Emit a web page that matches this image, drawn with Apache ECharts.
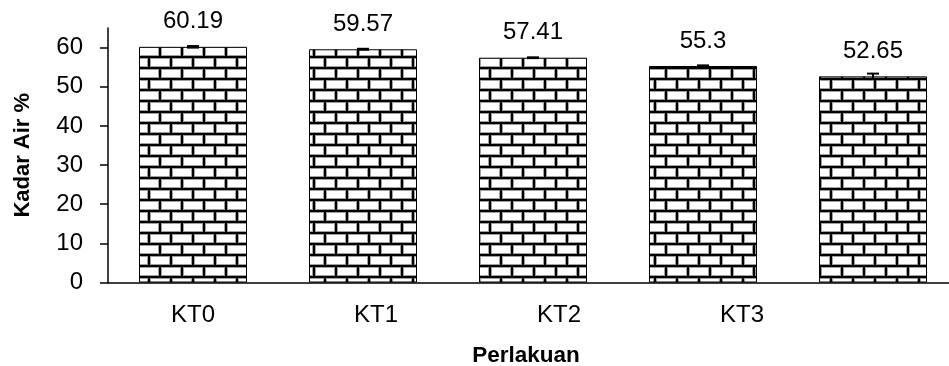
<!DOCTYPE html>
<html>
<head>
<meta charset="utf-8">
<script src="https://cdn.jsdelivr.net/npm/echarts@6/dist/echarts.min.js"></script>
<style>html,body{margin:0;padding:0;background:#fff}#c{width:949px;height:366px}</style>
</head>
<body>
<div id="c"></div>
<script>
var categories = ['KT0', 'KT1', 'KT2', 'KT3', 'KT4'];
var tickLabels = ['KT0', 'KT1', 'KT2', 'KT3'];
var values = [60.19, 59.57, 57.41, 55.3, 52.65];
var errors = [0.2, 0.12, 0.1, 0.15, 0.7];
var yTicks = [0, 10, 20, 30, 40, 50, 60];

var FONT = "'Liberation Sans', Arial, sans-serif";

function brick() {
  var c = document.createElement('canvas');
  c.width = 22; c.height = 22;
  var g = c.getContext('2d');
  g.fillStyle = '#fff';
  g.fillRect(0, 0, 22, 22);
  function lines(col, w) {
    g.strokeStyle = col; g.lineWidth = w;
    g.beginPath();
    g.moveTo(0, 2); g.lineTo(22, 2);
    g.moveTo(0, 13); g.lineTo(22, 13);
    g.moveTo(6, 2); g.lineTo(6, 13);
    g.moveTo(17, 13); g.lineTo(17, 22);
    g.moveTo(17, 0); g.lineTo(17, 2);
    g.stroke();
  }
  lines('#a0a0a0', 4);
  lines('#000', 2);
  return c;
}

var chart = echarts.init(document.getElementById('c'), null, {renderer: 'canvas'});
var errData = values.map(function (v, i) { return [i, v - errors[i], v + errors[i]]; });

chart.setOption({
  animation: false,
  backgroundColor: '#fff',
  grid: [
    {left: 108, top: 28, width: 850, bottom: 83.5, containLabel: false, outerBoundsMode: 'none'},
    {left: 101.5, top: 28, width: 732, bottom: 83.5, containLabel: false, outerBoundsMode: 'none'}
  ],
  xAxis: [
    {
      type: 'category', gridIndex: 0, data: categories,
      axisLine: {lineStyle: {color: '#000', width: 1.5}},
      axisTick: {show: false},
      axisLabel: {show: false},
      name: 'Perlakuan', nameLocation: 'middle', nameGap: 62,
      nameTextStyle: {fontFamily: FONT, fontSize: 22.5, fontWeight: 'bold', color: '#000', padding: [0, 0, 0, -14]}
    },
    {
      type: 'category', gridIndex: 1, data: tickLabels,
      axisLine: {show: false}, axisTick: {show: false},
      axisLabel: {fontFamily: FONT, fontSize: 24, color: '#000', margin: 21}
    }
  ],
  yAxis: [
    {
      type: 'value', gridIndex: 0, min: 0, max: 65, interval: 10,
      axisLine: {show: true, lineStyle: {color: '#000', width: 1.5}},
      axisTick: {show: true, length: 8, lineStyle: {color: '#000', width: 1.5}, customValues: yTicks},
      axisLabel: {fontFamily: FONT, fontSize: 24, color: '#000', margin: 25, customValues: yTicks},
      splitLine: {show: false},
      name: 'Kadar Air %', nameLocation: 'middle', nameGap: 74,
      nameTextStyle: {fontFamily: FONT, fontSize: 22, fontWeight: 'bold', color: '#000'}
    },
    {type: 'value', gridIndex: 1, show: false, min: 0, max: 65}
  ],
  series: [
    {
      type: 'bar', xAxisIndex: 0, yAxisIndex: 0, data: values, barWidth: 108,
      itemStyle: {color: {image: brick(), repeat: 'repeat'}, borderColor: '#000', borderWidth: 1},
      label: {show: true, position: 'top', distance: 13, fontFamily: FONT, fontSize: 24, color: '#000',
        formatter: function (p) { return String(p.value); }}
    },
    {
      type: 'custom', xAxisIndex: 0, yAxisIndex: 0, data: errData, z: 10,
      renderItem: function (params, api) {
        var x = api.value(0);
        var lo = api.coord([x, api.value(1)]);
        var hi = api.coord([x, api.value(2)]);
        var hw = 6;
        var st = {stroke: '#000', lineWidth: 2};
        return {type: 'group', children: [
          {type: 'line', shape: {x1: lo[0], y1: lo[1], x2: hi[0], y2: hi[1]}, style: st},
          {type: 'line', shape: {x1: lo[0] - hw, y1: lo[1], x2: lo[0] + hw, y2: lo[1]}, style: st},
          {type: 'line', shape: {x1: hi[0] - hw, y1: hi[1], x2: hi[0] + hw, y2: hi[1]}, style: st}
        ]};
      }
    }
  ]
});
</script>
</body>
</html>
